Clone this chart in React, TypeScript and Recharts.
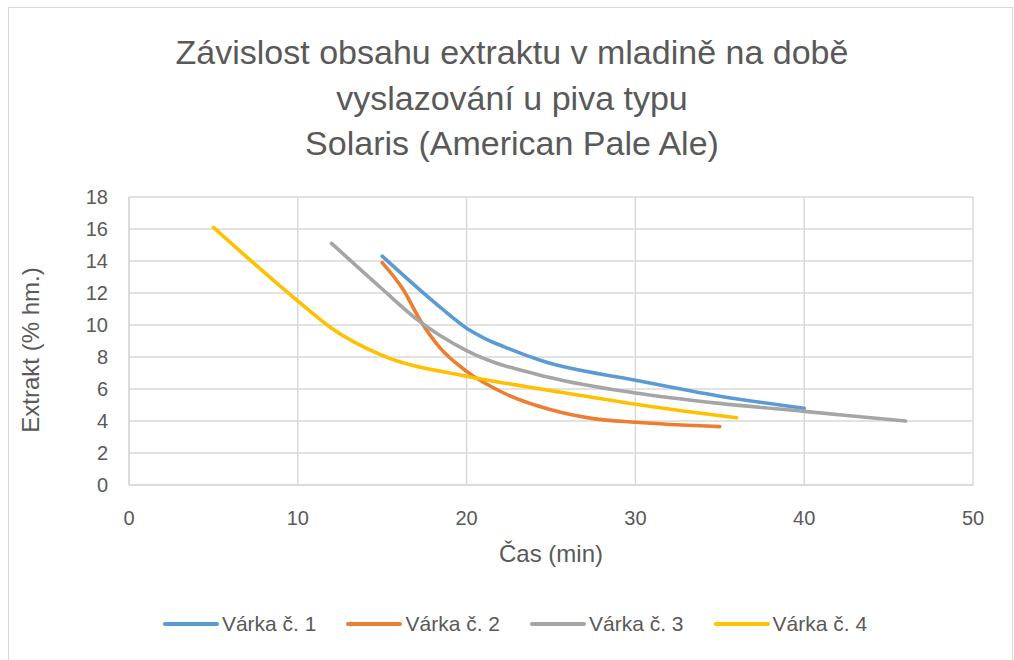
import React from 'react';
import { LineChart, Line, XAxis, YAxis, CartesianGrid, Legend } from 'recharts';

const TITLE_LINES = [
  'Závislost obsahu extraktu v mladině na době',
  'vyslazování u piva typu',
  'Solaris (American Pale Ale)',
];
const X_TITLE = 'Čas (min)';
const Y_TITLE = 'Extrakt (% hm.)';
const X_TICKS = [0, 10, 20, 30, 40, 50];
const Y_TICKS = [0, 2, 4, 6, 8, 10, 12, 14, 16, 18];

const SERIES_NAMES = ['Várka č. 1', 'Várka č. 2', 'Várka č. 3', 'Várka č. 4'];
const SERIES_COLORS = ['#5B9BD5', '#ED7D31', '#A5A5A5', '#FFC000'];

const batch1Time = [15, 18.5, 20, 21, 22.2, 24.5, 30, 35, 40];
const batch1Extract = [14.3, 11.05, 9.8, 9.2, 8.65, 7.75, 6.55, 5.55, 4.8];

const batch2Time = [15, 16.25, 17.25, 18.4, 20, 22.2, 25, 27.5, 30, 35];
const batch2Extract = [13.9, 12.2, 10.3, 8.6, 7.1, 5.75, 4.7, 4.15, 3.92, 3.65];

const batch3Time = [12, 15, 17, 20, 25, 30, 35, 40, 46];
const batch3Extract = [15.1, 12.25, 10.4, 8.4, 6.7, 5.75, 5.1, 4.6, 4.0];

const batch4Time = [5, 10, 12, 15, 20, 25, 30, 36];
const batch4Extract = [16.1, 11.5, 9.8, 8.1, 6.8, 5.9, 5.05, 4.2];

const toPoints = (xs: number[], ys: number[]) => xs.map((x, i) => ({ x, y: ys[i] }));

const SERIES_DATA = [
  toPoints(batch1Time, batch1Extract),
  toPoints(batch2Time, batch2Extract),
  toPoints(batch3Time, batch3Extract),
  toPoints(batch4Time, batch4Extract),
];

const FONT = "'Liberation Sans', Arial, sans-serif";
const TEXT_COLOR = '#595959';
const GRID_COLOR = '#d9d9d9';

const LegendContent = (props: any) => {
  const payload = props.payload || [];
  return (
    <div style={{ display: 'flex', justifyContent: 'center', alignItems: 'center', fontFamily: FONT, fontSize: 21, color: TEXT_COLOR }}>
      {payload.map((p: any, i: number) => (
        <div key={i} style={{ display: 'flex', alignItems: 'center', margin: '0 15px' }}>
          <svg width={56} height={10} style={{ marginRight: 3 }}>
            <line x1={2} y1={5} x2={54} y2={5} stroke={p.color} strokeWidth={4} strokeLinecap="round" />
          </svg>
          <span>{p.value}</span>
        </div>
      ))}
    </div>
  );
};

export default function App() {
  return (
    <div style={{ position: 'absolute', left: 0, top: 0, width: 1014, height: 660, background: '#fff' }}>
      <div
        style={{
          position: 'absolute',
          left: 8,
          top: 7,
          width: 1005,
          height: 653,
          boxSizing: 'border-box',
          borderTop: `1.5px solid ${GRID_COLOR}`,
          borderLeft: `1.5px solid ${GRID_COLOR}`,
          borderRight: `1.5px solid ${GRID_COLOR}`,
        }}
      />
      <svg width={1014} height={180} style={{ position: 'absolute', left: 0, top: 0 }}>
        {TITLE_LINES.map((t, i) => (
          <text key={i} x={512} y={64 + i * 45.5} textAnchor="middle" fontFamily={FONT} fontSize={34} fill={TEXT_COLOR}>
            {t}
          </text>
        ))}
      </svg>
      <div style={{ position: 'absolute', left: 0, top: 0 }}>
        <LineChart width={1014} height={660} margin={{ top: 197, right: 41, bottom: 145, left: 69 }}>
          <CartesianGrid stroke={GRID_COLOR} strokeWidth={1.5} />
          <XAxis
            dataKey="x"
            type="number"
            domain={[0, 50]}
            ticks={X_TICKS}
            allowDataOverflow
            height={30}
            tickLine={false}
            tickMargin={20}
            axisLine={{ stroke: GRID_COLOR, strokeWidth: 1.5 }}
            tick={{ fill: TEXT_COLOR, fontSize: 20, fontFamily: FONT }}
            label={{
              content: (p: any) => {
                const vb = p.viewBox || { x: 129, y: 485, width: 844 };
                return (
                  <text x={vb.x + vb.width / 2} y={vb.y + 77} textAnchor="middle" fontFamily={FONT} fontSize={24} fill={TEXT_COLOR}>
                    {X_TITLE}
                  </text>
                );
              },
            }}
          />
          <YAxis
            dataKey="y"
            type="number"
            domain={[0, 18]}
            ticks={Y_TICKS}
            width={60}
            tickLine={false}
            tickMargin={15}
            axisLine={{ stroke: GRID_COLOR, strokeWidth: 1.5 }}
            tick={{ fill: TEXT_COLOR, fontSize: 20, fontFamily: FONT }}
            label={{
              content: (p: any) => {
                const vb = p.viewBox || { x: 69, y: 197, height: 288 };
                const cx = vb.x - 30;
                const cy = vb.y + vb.height / 2 + 9;
                return (
                  <text x={cx} y={cy} transform={`rotate(-90, ${cx}, ${cy})`} textAnchor="middle" fontFamily={FONT} fontSize={24} fill={TEXT_COLOR}>
                    {Y_TITLE}
                  </text>
                );
              },
            }}
          />
          <Legend
            layout="vertical"
            align="center"
            verticalAlign="middle"
            content={<LegendContent />}
            wrapperStyle={{ top: 612, left: 8, width: 1014, height: 30 }}
          />
          {SERIES_DATA.map((d, i) => (
            <Line
              key={SERIES_NAMES[i]}
              data={d}
              dataKey="y"
              name={SERIES_NAMES[i]}
              type="monotone"
              stroke={SERIES_COLORS[i]}
              strokeWidth={3.6}
              strokeLinecap="round"
              dot={false}
              activeDot={false}
              isAnimationActive={false}
            />
          ))}
        </LineChart>
      </div>
    </div>
  );
}
